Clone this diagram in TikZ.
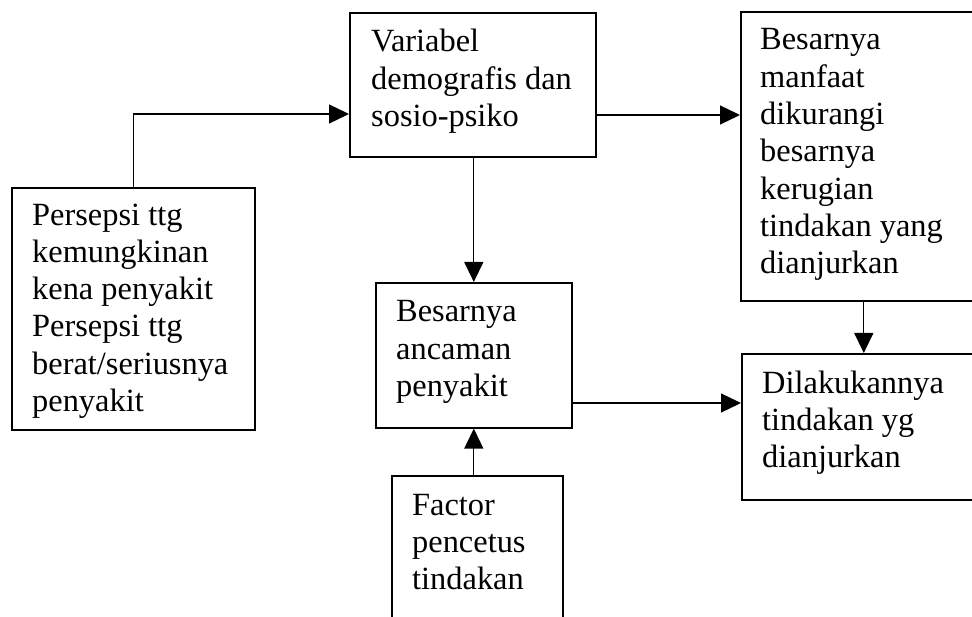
\documentclass[tikz,border=0pt]{standalone}
\usepackage{fontspec}
\setmainfont{Liberation Serif}
\usetikzlibrary{arrows.meta,calc}
\tikzset{
  box/.style={draw=black, line width=1.6pt, inner sep=0pt, anchor=north west},
  % base anchor of a multi-line node sits on its last line
  boxtext/.style={inner sep=0pt, anchor=base west, align=left,
    font=\fontsize{32.4}{37.3}\selectfont},
  link/.style={draw=black, line width=1.3pt, -{Triangle[length=20pt,width=19pt]}},
}
\begin{document}
\begin{tikzpicture}[x=1pt,y=-1pt]
\useasboundingbox (0,0) rectangle (972,617);
\clip (0,0) rectangle (972,617);

% boxes (the right column and the bottom box run past the page edge)
\node[box, minimum width=243pt, minimum height=242pt] (A) at (11,187) {};
\node[box, minimum width=246pt, minimum height=144pt] (B) at (349,12) {};
\node[box, minimum width=245pt, minimum height=289pt] (C) at (740,11) {};
\node[box, minimum width=244pt, minimum height=146pt] (D) at (741,353) {};
\node[box, minimum width=196pt, minimum height=145pt] (E) at (375,282) {};
\node[box, minimum width=171pt, minimum height=180pt] (F) at (391,475) {};

% texts (first baseline about 39pt under the box top, 37.3pt line pitch)
\node[boxtext] (At) at ([xshift=21pt,yshift=-224.5pt]A.north west)
  {Persepsi ttg\\kemungkinan\\kena penyakit\\Persepsi ttg\\berat/seriusnya\\penyakit};
\node[boxtext] (Bt) at ([xshift=22pt,yshift=-114.6pt]B.north west)
  {Variabel\\demografis dan\\sosio-psiko};
\node[boxtext] (Ct) at ([xshift=20pt,yshift=-262.8pt]C.north west)
  {Besarnya\\manfaat\\dikurangi\\besarnya\\kerugian\\tindakan yang\\dianjurkan};
\node[boxtext] (Dt) at ([xshift=21pt,yshift=-114.6pt]D.north west)
  {Dilakukannya\\tindakan yg\\dianjurkan};
\node[boxtext] (Et) at ([xshift=21pt,yshift=-114.6pt]E.north west)
  {Besarnya\\ancaman\\penyakit};
\node[boxtext] (Ft) at ([xshift=21pt,yshift=-114.6pt]F.north west)
  {Factor\\pencetus\\tindakan};

% connector end points on box edges
\coordinate (Bin)  at (B.west |- 0,114);
\coordinate (Bout) at (B.east |- 0,115);
\coordinate (Cin)  at (C.west |- 0,115);
\coordinate (Eout) at (E.east |- 0,403);
\coordinate (Din)  at (D.west |- 0,403);
\coordinate (Bdown) at (B.south -| E.north);
\coordinate (Cdown) at (C.south -| D.north);
\coordinate (Fup)   at (F.north -| E.south);

% connectors
\draw[link] (A.north) |- (Bin);
\draw[link] (Bout) -- (Cin);
\draw[link] (Bdown) -- (E.north);
\draw[link] (Cdown) -- (D.north);
\draw[link] (Eout) -- (Din);
\draw[link] (Fup) -- (E.south);
\end{tikzpicture}
\end{document}
